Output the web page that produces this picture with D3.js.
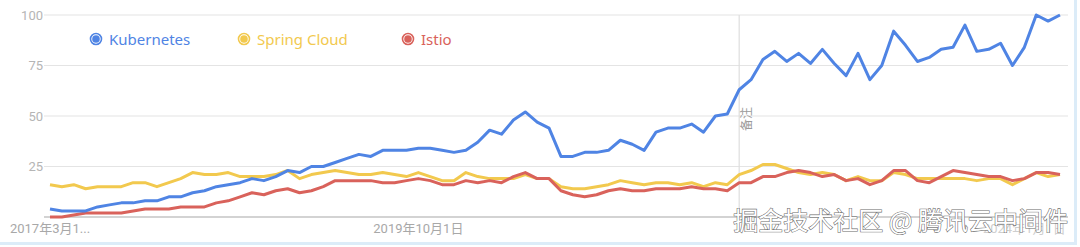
<!DOCTYPE html>
<html><head><meta charset="utf-8">
<script src="https://cdn.jsdelivr.net/npm/d3@7"></script>
<style>
html,body{margin:0;padding:0;background:#fff;}
svg{display:block;font-family:Roboto,"Noto Sans CJK SC",sans-serif;}
</style></head>
<body>
<svg id="c" width="1080" height="247"></svg>
<script>
// months 2017-03 .. 2024-04 (86 monthly points)
const months = d3.range(86).map(i => { const d = new Date(2017, 2 + i, 1); return d.getFullYear() + "-" + String(d.getMonth() + 1).padStart(2, "0"); });
const seriesNames = ["Kubernetes", "Spring Cloud", "Istio"];
const seriesColors = ["#4f84e4", "#f2c94e", "#d9625b"];
const kubernetes = [4,3,3,3,5,6,7,7,8,8,10,10,12,13,15,16,17,19,18,20,23,22,25,25,27,29,31,30,33,33,33,34,34,33,32,33,37,43,41,48,52,47,44,30,30,32,32,33,38,36,33,42,44,44,46,42,50,51,63,68,78,82,77,81,76,83,76,70,81,68,75,92,85,77,79,83,84,95,82,83,86,75,84,100,97,100];
const springCloud = [16,15,16,14,15,15,15,17,17,15,17,19,22,21,21,22,20,20,20,21,23,19,21,22,23,22,21,21,22,21,20,22,20,18,18,22,20,19,19,19,21,19,19,15,14,14,15,16,18,17,16,17,17,16,17,15,17,16,21,23,26,26,24,22,21,22,21,18,20,18,18,22,21,19,19,19,19,19,18,19,19,16,19,22,20,21];
const istio = [0,0,1,2,2,2,2,3,4,4,4,5,5,5,7,8,10,12,11,13,14,12,13,15,18,18,18,18,17,17,18,19,18,16,16,18,17,18,17,20,22,19,19,13,11,10,11,13,14,13,13,14,14,14,15,14,14,13,17,17,20,20,22,23,22,20,21,18,19,16,18,23,23,18,17,20,23,22,21,20,20,18,19,22,22,21];
const yTicks = [0, 25, 50, 75, 100];
const xLabels = [["2017-03", "2017年3月1..."], ["2019-10", "2019年10月1日"], ["2024-01", "2024年1月1日"]];
const noteMonth = "2022-01";
const noteText = "备注";
const watermark = "掘金技术社区 @ 腾讯云中间件";

const svg = d3.select("#c");
const x = d3.scalePoint().domain(months).range([50, 1060]);
const y = d3.scaleLinear().domain([0, 100]).range([217, 15]);

// card edges
svg.append("rect").attr("x", 0).attr("y", 242).attr("width", 1076).attr("height", 3).attr("fill", "#dcecf8");
svg.append("rect").attr("x", 1074).attr("y", 0).attr("width", 3).attr("height", 245).attr("fill", "#dcecf8");

// gridlines
const grid = svg.append("g");
grid.selectAll("line").data(yTicks.filter(t => t > 0)).join("line")
  .attr("x1", 44).attr("x2", 1068)
  .attr("y1", d => y(d)).attr("y2", d => y(d))
  .attr("stroke", "#e4e4e4").attr("stroke-width", 1.2);
svg.append("line").attr("x1", 44).attr("x2", 1068).attr("y1", y(0)).attr("y2", y(0))
  .attr("stroke", "#c4c4c4").attr("stroke-width", 1.5);

// y tick labels
svg.append("g").selectAll("text").data(yTicks.filter(t => t > 0)).join("text")
  .attr("x", 43).attr("y", d => y(d) + 4.5)
  .attr("text-anchor", "end").attr("font-size", 13).attr("fill", "#b5b5b5")
  .text(d => d);

// x labels
svg.append("g").selectAll("text").data(xLabels).join("text")
  .attr("x", d => x(d[0])).attr("y", 233)
  .attr("text-anchor", "middle").attr("font-size", 13).attr("fill", d => d[0] === "2024-01" ? "#cfcfcf" : "#a8a8a8")
  .text(d => d[1]);

// note line
const nx = x(noteMonth);
svg.append("line").attr("x1", nx).attr("x2", nx).attr("y1", y(100)).attr("y2", y(0))
  .attr("stroke", "#dedede").attr("stroke-width", 1.2);
svg.append("text").attr("transform", `translate(${nx + 12},131) rotate(-90)`)
  .attr("font-size", 12).attr("fill", "#9a9a9a").text(noteText);

// lines
const data = [kubernetes, springCloud, istio];
const line = d3.line().x((d, i) => x(months[i])).y(d => y(d));
const drawOrder = [1, 2, 0];
svg.append("g").selectAll("path").data(drawOrder).join("path")
  .attr("d", k => line(data[k]))
  .attr("fill", "none").attr("stroke", k => seriesColors[k])
  .attr("stroke-width", 3).attr("stroke-linejoin", "round");

// legend
const legX = [96, 244, 408];
const leg = svg.append("g").selectAll("g").data(seriesNames).join("g")
  .attr("transform", (d, i) => `translate(${legX[i]},39)`);
leg.append("circle").attr("r", 5.5).attr("fill", "#fff").attr("stroke", (d, i) => seriesColors[i]).attr("stroke-width", 1.6);
leg.append("circle").attr("r", 3.8).attr("fill", (d, i) => seriesColors[i]);
leg.append("text").attr("x", 13).attr("y", 5.5).attr("font-size", 15).attr("font-family", "'Noto Sans',sans-serif")
  .attr("fill", (d, i) => seriesColors[i]).text(d => d);

// watermark
svg.append("text").attr("x", 1068).attr("y", 230).attr("text-anchor", "end")
  .attr("font-size", 25).attr("font-family", "'Noto Sans CJK SC',sans-serif")
  .attr("fill", "#fff").attr("stroke", "#6a6a6a").attr("stroke-width", 1.1)
  .attr("paint-order", "stroke")
  .text(watermark);
</script>
</body></html>
